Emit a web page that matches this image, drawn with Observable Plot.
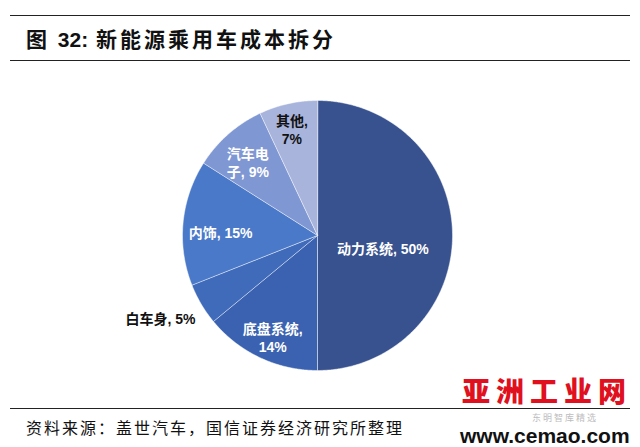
<!DOCTYPE html>
<html>
<head>
<meta charset="utf-8">
<script src="https://cdn.jsdelivr.net/npm/d3@7"></script>
<script src="https://cdn.jsdelivr.net/npm/@observablehq/plot@0.6"></script>
<style>
  html, body { margin: 0; padding: 0; background: #fff; }
  #page { position: relative; width: 640px; height: 447px; overflow: hidden; font-family: "Noto Sans CJK SC", "Liberation Sans", sans-serif; }
  .rule { position: absolute; left: 10px; width: 620px; height: 0; border-top: 1.5px solid #222; }
  #title { position: absolute; left: 26px; top: 24px; font-size: 21px; font-weight: bold; color: #111; letter-spacing: 3px; line-height: 28px; white-space: nowrap; }
  #title .num { font-family: "Liberation Sans", Arial, sans-serif; letter-spacing: 0; }
  #caption { position: absolute; left: 26px; top: 416px; font-size: 16px; color: #111; letter-spacing: 2px; line-height: 22px; white-space: nowrap; }
  #chart { position: absolute; left: 0; top: 62px; }
  #wm1 { position: absolute; left: 462px; top: 371px; font-size: 28px; font-weight: 900; color: #e0101e; letter-spacing: 6px; line-height: 39px; white-space: nowrap; }
  #wm2 { position: absolute; left: 532px; top: 411px; font-size: 9px; color: #bdbdbd; letter-spacing: 2px; line-height: 13px; white-space: nowrap; }
  #wm3 { position: absolute; left: 460px; top: 424px; font-family: "Liberation Sans", Arial, sans-serif; font-size: 21px; font-weight: bold; color: #111; line-height: 23px; white-space: nowrap; }
</style>
</head>
<body>
<div id="page">
  <div class="rule" style="top:15px"></div>
  <div id="title">图 <span class="num">32:</span> 新能源乘用车成本拆分</div>
  <div class="rule" style="top:60px"></div>
  <div id="chart"></div>
  <div class="rule" style="top:408px"></div>
  <div id="caption">资料来源：盖世汽车，国信证券经济研究所整理</div>
  <div id="wm1">亚洲工业网</div>
  <div id="wm2">东明智库精选</div>
  <div id="wm3">www.cemao.com</div>
</div>
<script>
// ---- data ----
const categories = ["动力系统", "底盘系统", "白车身", "内饰", "汽车电子", "其他"];
const shares = [50, 14, 5, 15, 9, 7];
const labelTexts = ["动力系统, 50%", "底盘系统,\n14%", "白车身, 5%", "内饰, 15%", "汽车电\n子, 9%", "其他,\n7%"];
const sliceColors = ["#38528f", "#3a62b0", "#406bbb", "#4a79c9", "#7f97d3", "#a8b4dc"];

// ---- geometry derived from data ----
const W = 640, H = 343, R = 135, cx = 317, cy = 173; // pixel layout of pie
const total = d3.sum(shares);
let acc = 0;
const slices = categories.map((c, i) => {
  const a0 = acc / total * 2 * Math.PI;
  acc += shares[i];
  const a1 = acc / total * 2 * Math.PI;
  return {c, i, a0, a1, mid: (a0 + a1) / 2};
});
const poly = [];
for (const s of slices) {
  poly.push({c: s.c, x: 0, y: 0});
  const n = Math.max(2, Math.ceil((s.a1 - s.a0) / (Math.PI / 360)));
  for (let k = 0; k <= n; k++) {
    const a = s.a0 + (s.a1 - s.a0) * k / n;
    poly.push({c: s.c, x: Math.sin(a), y: Math.cos(a)});
  }
}
// label placement (style choices)
const labelStyle = {
  "动力系统": {r: 0.78, dx: -40, dy: 13, fill: "#fff", anchor: "middle"},
  "底盘系统": {r: 0.78, dx: 0, dy: 6, fill: "#fff", anchor: "middle"},
  "白车身":   {r: 1.05, dx: 0, dy: 11, fill: "#111", anchor: "end"},
  "内饰":     {r: 0.78, dx: 8, dy: 7, fill: "#fff", anchor: "middle"},
  "汽车电子": {r: 0.78, dx: 0, dy: 6, fill: "#fff", anchor: "middle"},
  "其他":     {r: 0.80, dx: -2, dy: -1, fill: "#111", anchor: "middle"}
};
const labels = slices.map(s => {
  const st = labelStyle[s.c];
  return {c: s.c, text: labelTexts[s.i], x: st.r * Math.sin(s.mid), y: st.r * Math.cos(s.mid), ...st};
});

const chart = Plot.plot({
  width: W, height: H,
  margin: 0,
  x: {domain: [-cx / R, (W - cx) / R], axis: null},
  y: {domain: [-(H - cy) / R, cy / R], axis: null},
  color: {domain: categories, range: sliceColors},
  style: {background: "transparent"},
  marks: [
    Plot.line(poly, {x: "x", y: "y", z: "c", fill: "c", stroke: "#fff", strokeWidth: 0.8, strokeOpacity: 0.6, curve: "linear-closed"}),
    ...labels.map(d => Plot.text([d], {
      x: "x", y: "y", text: "text", dx: d.dx, dy: d.dy,
      fill: d.fill, textAnchor: d.anchor, lineHeight: 1.3,
      fontSize: 14, fontWeight: "bold",
      fontFamily: "'Liberation Sans', 'Noto Sans CJK SC', sans-serif"
    }))
  ]
});
document.getElementById("chart").appendChild(chart);
</script>
</body>
</html>
